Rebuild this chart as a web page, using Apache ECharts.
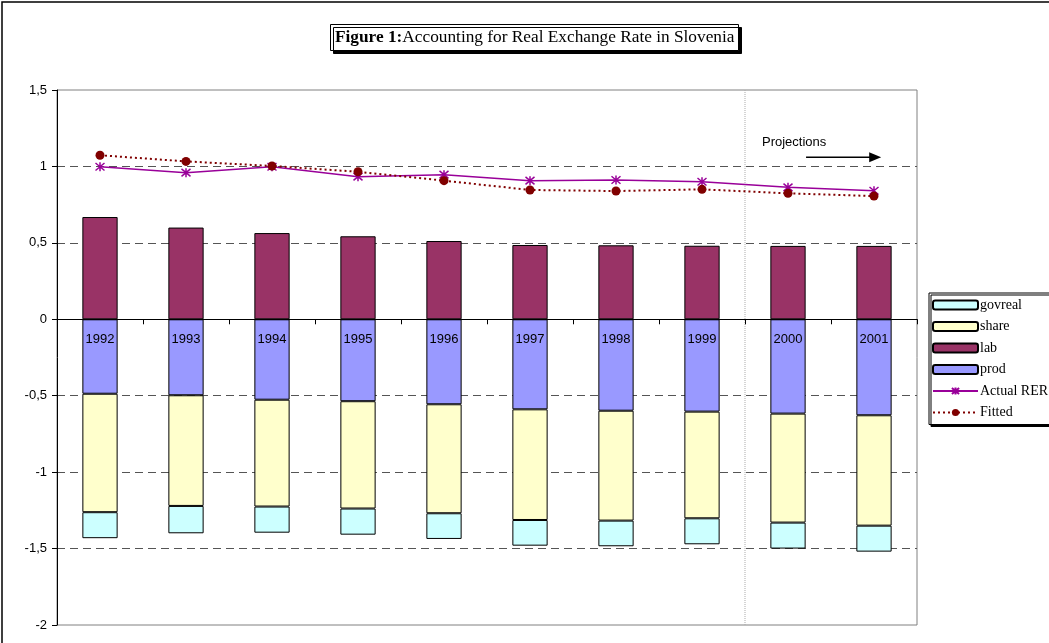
<!DOCTYPE html>
<html>
<head>
<meta charset="utf-8">
<script src="https://cdn.jsdelivr.net/npm/echarts@6/dist/echarts.min.js"></script>
<style>
  html, body { margin: 0; padding: 0; background: #fff; }
  #main { width: 1049px; height: 643px; }
</style>
</head>
<body>
<div id="main"></div>
<script>
// data
var years = ['1992', '1993', '1994', '1995', '1996', '1997', '1998', '1999', '2000', '2001'];
var lab = [0.669, 0.600, 0.564, 0.543, 0.512, 0.486, 0.484, 0.481, 0.480, 0.480];
var prod = [-0.487, -0.497, -0.526, -0.536, -0.556, -0.589, -0.598, -0.604, -0.617, -0.628];
var share = [-0.775, -0.724, -0.699, -0.702, -0.713, -0.724, -0.719, -0.698, -0.713, -0.722];
var govreal = [-0.170, -0.179, -0.171, -0.171, -0.168, -0.168, -0.168, -0.170, -0.170, -0.170];
var actualRER = [0.998, 0.959, 0.998, 0.933, 0.946, 0.907, 0.911, 0.900, 0.863, 0.841];
var fitted = [1.073, 1.033, 1.003, 0.965, 0.907, 0.846, 0.839, 0.850, 0.824, 0.806];
var yTicks = [-2, -1.5, -1, -0.5, 0, 0.5, 1, 1.5];

var sans = 'Liberation Sans, Arial, sans-serif';
var serif = 'Liberation Serif, Times New Roman, serif';
var star = 'path://M0,0L10,10M10,0L0,10M5,-1L5,11';

var myChart = echarts.init(document.getElementById('main'));

function barSeries(name, data, color, label) {
  return {
    name: name,
    type: 'bar',
    stack: 'rer',
    barWidth: '41%',
    itemStyle: { color: color, borderColor: '#000', borderWidth: 1 },
    label: label || { show: false },
    data: data
  };
}

var options = {
  animation: false,
  backgroundColor: '#fff',
  // 标题（带阴影的框）
  title: {
    left: 330,
    top: 24,
    text: '{b|Figure 1:}{n|Accounting for Real Exchange Rate in Slovenia}',
    padding: [5, 4, 5, 5],
    borderColor: '#000',
    borderWidth: 1,
    backgroundColor: '#fff',
    shadowColor: '#000',
    shadowBlur: 0,
    shadowOffsetX: 3,
    shadowOffsetY: 3,
    textStyle: {
      fontWeight: 'normal',
      rich: {
        b: { fontFamily: serif, fontSize: 17.3, fontWeight: 'bold', color: '#000' },
        n: { fontFamily: serif, fontSize: 17.3, fontWeight: 'normal', color: '#000' }
      }
    }
  },
  legend: {
    orient: 'vertical',
    left: 929,
    top: 293,
    data: ['govreal', 'share', 'lab', 'prod', 'Actual RER', 'Fitted'],
    itemWidth: 45,
    itemHeight: 9,
    itemGap: 7.5,
    padding: [5, 6, 5, 3],
    borderColor: '#000',
    borderWidth: 1,
    backgroundColor: '#fff',
    shadowColor: '#000',
    shadowBlur: 0,
    shadowOffsetX: 2,
    shadowOffsetY: 2,
    textStyle: { fontFamily: serif, fontSize: 14, color: '#000', padding: [0, 0, 0, -3] }
  },
  grid: {
    left: 57,
    right: 132,
    top: 90,
    bottom: 18,
    outerBoundsMode: 'none',
    containLabel: false,
    show: true,
    borderColor: '#808080',
    borderWidth: 1
  },
  xAxis: {
    type: 'category',
    data: years,
    z: 10,
    axisLine: { onZero: true, lineStyle: { color: '#000', width: 1 } },
    axisTick: { show: true, length: 5, lineStyle: { color: '#000' } },
    axisLabel: { show: false }
  },
  yAxis: {
    type: 'value',
    min: yTicks[0],
    max: yTicks[yTicks.length - 1],
    interval: 0.5,
    axisLine: { show: true, lineStyle: { color: '#000' } },
    axisTick: { show: true, length: 5, lineStyle: { color: '#000' } },
    axisLabel: {
      fontFamily: sans,
      fontSize: 13,
      color: '#000',
      margin: 10,
      formatter: function (v) { return String(v).replace('.', ','); }
    },
    splitLine: {
      show: true,
      showMinLine: false,
      showMaxLine: false,
      lineStyle: { color: '#555', type: [8, 5], width: 1 }
    }
  },
  series: [
    barSeries('lab', lab, '#993366'),
    // 年份标签画在 prod 柱子里，紧贴零线下方
    barSeries('prod', prod, '#9999FF', {
      show: true,
      position: 'insideTop',
      distance: 14,
      formatter: '{b}',
      fontFamily: sans,
      fontSize: 13,
      color: '#000'
    }),
    barSeries('share', share, '#FFFFCC'),
    barSeries('govreal', govreal, '#CCFFFF'),
    {
      name: 'Actual RER',
      type: 'line',
      z: 5,
      symbol: star,
      symbolSize: 9,
      itemStyle: { color: '#990099', borderColor: '#990099', borderWidth: 1.5 },
      lineStyle: { color: '#990099', width: 1.5 },
      data: actualRER
    },
    {
      name: 'Fitted',
      type: 'line',
      z: 6,
      symbol: 'circle',
      symbolSize: 9,
      itemStyle: { color: '#800000' },
      lineStyle: { color: '#800000', width: 2, type: [2, 3] },
      data: fitted
    }
  ]
};
myChart.setOption(options);

// 预测分界线、Projections 箭头、外框
var c7 = myChart.convertToPixel({ xAxisIndex: 0 }, 7);
var c8 = myChart.convertToPixel({ xAxisIndex: 0 }, 8);
var band = c8 - c7;
var mid = (c7 + c8) / 2;
var yTop = myChart.convertToPixel({ yAxisIndex: 0 }, 1.5);
var yBot = myChart.convertToPixel({ yAxisIndex: 0 }, -2);
var yArrow = myChart.convertToPixel({ yAxisIndex: 0 }, 1.06);
var yText = myChart.convertToPixel({ yAxisIndex: 0 }, 1.155);
var ax0 = mid + 0.71 * band;
var ax1 = mid + 1.56 * band;

myChart.setOption({
  graphic: [
    {
      type: 'rect', z: 100, silent: true,
      shape: { x: 2, y: 2, width: 1080, height: 680 },
      style: { fill: null, stroke: '#000', lineWidth: 1.5 }
    },
    {
      type: 'line', z: 1, silent: true,
      shape: { x1: mid, y1: yTop, x2: mid, y2: yBot },
      style: { stroke: '#aaa', lineWidth: 1, lineDash: [1, 1] }
    },
    {
      type: 'text', z: 100, silent: true,
      x: mid + 17, y: yText,
      style: { text: 'Projections', font: '13px ' + sans, fill: '#000', textVerticalAlign: 'middle' }
    },
    {
      type: 'line', z: 100, silent: true,
      shape: { x1: ax0, y1: yArrow, x2: ax1 - 8, y2: yArrow },
      style: { stroke: '#000', lineWidth: 1.5 }
    },
    {
      type: 'polygon', z: 100, silent: true,
      shape: { points: [[ax1 - 10, yArrow - 5], [ax1 + 2, yArrow], [ax1 - 10, yArrow + 5]] },
      style: { fill: '#000' }
    }
  ]
});
</script>
</body>
</html>
